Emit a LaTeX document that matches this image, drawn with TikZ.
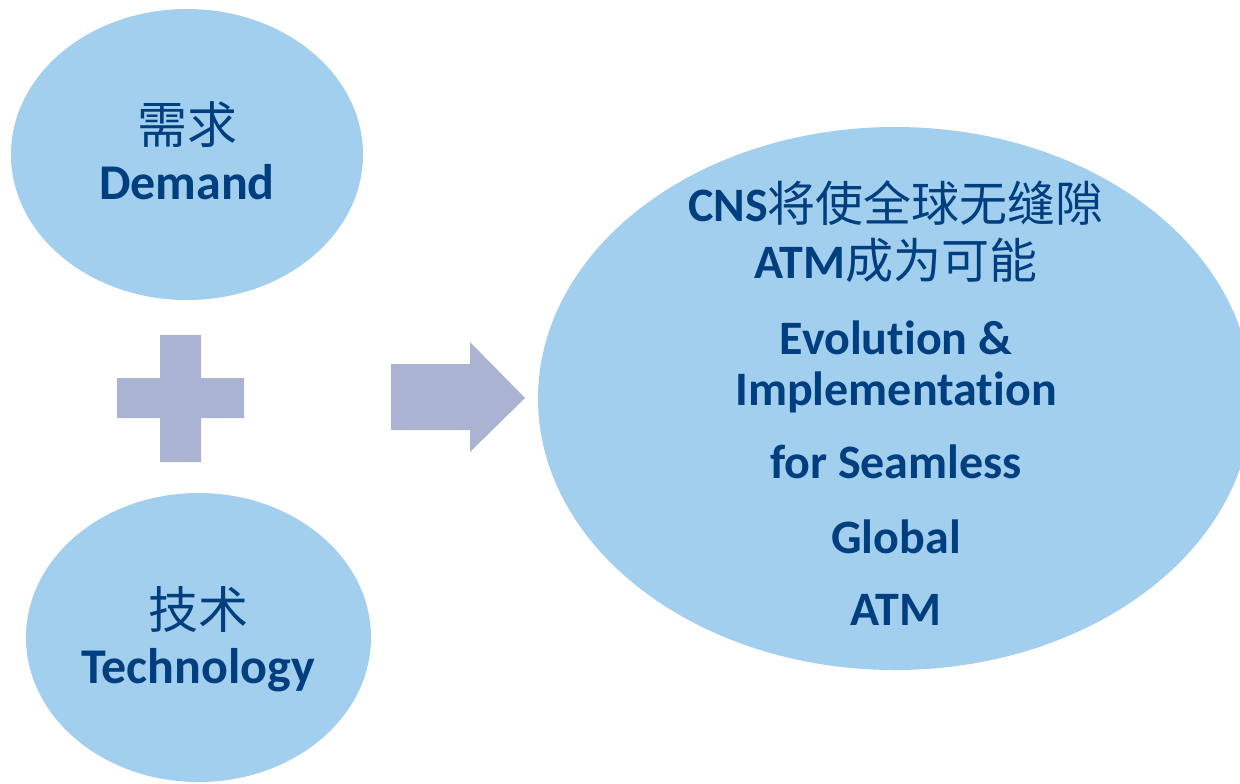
\documentclass[tikz,border=0pt]{standalone}
\usepackage{fontspec}
\setmainfont[Ligatures=NoCommon]{Carlito}
\newfontfamily\cjk{Noto Sans CJK SC}
\usetikzlibrary{shapes.geometric}
\definecolor{bubblefill}{RGB}{162,207,238}
\definecolor{markfill}{RGB}{170,180,210}
\definecolor{txt}{RGB}{0,63,127}
\begin{document}
\begin{tikzpicture}[x=0.5pt,y=-0.5pt,
  bubble/.style={ellipse, fill=bubblefill, draw=none, inner sep=0pt},
  lbl/.style={anchor=base, text=txt, inner sep=0pt, font=\fontsize{24}{28}\selectfont\bfseries},
  biglbl/.style={anchor=base, text=txt, inner sep=0pt, font=\fontsize{25}{29}\selectfont\bfseries},
  cjklbl/.style={anchor=base, text=txt, inner sep=0pt, font=\fontsize{25}{29}\selectfont\cjk},
  glyphshape/.style={fill=markfill, draw=none}]
\useasboundingbox (0,0) rectangle (1240,783);
\clip (0,0) rectangle (1240,783);
% bubbles
\node[bubble, minimum width=176pt, minimum height=145.5pt] (demand) at (187,154.5) {};
\node[bubble, minimum width=172.5pt, minimum height=144.5pt] (tech) at (198.5,637.5) {};
\node[bubble, minimum width=357pt, minimum height=271.5pt] (goal) at (895,398.5) {};
% plus sign
\fill[glyphshape] (160,335) -- (201,335) -- (201,378) -- (244,378) -- (244,418) -- (201,418)
  -- (201,462) -- (160,462) -- (160,418) -- (117,418) -- (117,378) -- (160,378) -- cycle;
% arrow
\fill[glyphshape] (391,364) -- (470,364) -- (470,342) -- (525,398) -- (470,452) -- (470,430)
  -- (391,430) -- cycle;
% texts
\node[cjklbl] (d1) at (187,143) {需求};
\node[biglbl] (d2) at (187,199) {Demand};
\node[cjklbl] (t1) at (198,628) {技术};
\node[biglbl] (t2) at (198,683) {Technology};
\node[lbl] (g1) at (896,221) {CNS{\cjk\mdseries 将使全球无缝隙}};
\node[lbl] (g2) at (896,278) {ATM{\cjk\mdseries 成为可能}};
\node[lbl] (g3) at (896,354) {Evolution \&};
\node[lbl] (g4) at (896,405) {Implementation};
\node[lbl] (g5) at (896,478) {for Seamless};
\node[lbl] (g6) at (896,553) {Global};
\node[lbl] (g7) at (896,625) {ATM};
\end{tikzpicture}
\end{document}
